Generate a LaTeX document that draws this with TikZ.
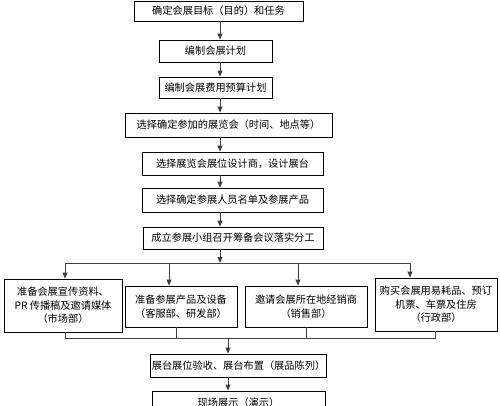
\documentclass[tikz,border=0pt]{standalone}
\usepackage{fontspec}
\setmainfont{Noto Sans CJK SC}
\usetikzlibrary{arrows.meta}
\tikzset{
  stage/.style={draw, line width=0.8pt, align=center, inner sep=1pt,
    font=\fontsize{10.2}{13.5}\selectfont},
  flow/.style={line width=0.8pt, draw=black!75, -{Triangle[width=5pt,length=6pt]}},
  link/.style={line width=0.8pt, draw=black!75},
}
\begin{document}
\begin{tikzpicture}[x=1pt,y=-1pt]
      \useasboundingbox (0,0) rectangle (500,405);
      \clip (0,0) rectangle (500,405);
      \draw
        (218.5,11) node[stage, minimum width=169pt, minimum height=20pt] (goal){确定会展目标（目的）和任务}
        (215.5,51) node[stage, minimum width=113pt, minimum height=22pt] (plan){编制会展计划}
        (215.5,87.5) node[stage, minimum width=113pt, minimum height=21pt] (budget){编制会展费用预算计划}
        (228.5,125) node[stage, minimum width=207pt, minimum height=24pt] (fair){选择确定参加的展览会（时间、地点等）}
        (232.5,163.5) node[stage, minimum width=181pt, minimum height=23pt] (booth){选择展览会展位设计商，设计展台}
        (232.5,200) node[stage, minimum width=181pt, minimum height=24pt] (staff){选择确定参展人员名单及参展产品}
        (233,238) node[stage, minimum width=180pt, minimum height=22pt] (team){成立参展小组召开筹备会议落实分工}
        (63,305.5) node[stage, minimum width=118pt, minimum height=53pt] (pr){准备会展宣传资料、\\PR 传播稿及邀请媒体\\（市场部）}
        (181,306.5) node[stage, minimum width=112pt, minimum height=41pt] (goods){准备参展产品及设备\\（客服部、研发部）}
        (306,306.5) node[stage, minimum width=122pt, minimum height=41pt] (dealer){邀请会展所在地经销商\\（销售部）}
        (436,304.5) node[stage, minimum width=122pt, minimum height=53pt] (buy){购买会展用易耗品、预订\\机票、车票及住房\\（行政部）}
        (238.5,365.5) node[stage, minimum width=173pt, minimum height=23pt] (check){展台展位验收、展台布置（展品陈列）}
        (238.5,402.5) node[stage, minimum width=173pt, minimum height=23pt] (show){现场展示（演示）};
      \coordinate (trunk) at (220,263);
      \coordinate (dropA) at (65,263);
      \coordinate (dropB) at (169,263);
      \coordinate (dropC) at (298,263);
      \coordinate (dropD) at (410,263);
      \coordinate (backA) at (65,338);
      \coordinate (backB) at (176,338);
      \coordinate (backC) at (306,338);
      \coordinate (backD) at (435,338);
      \coordinate (stem) at (228,338);
      \begin{scope}[flow]
        \draw (goal.south -| trunk) to (plan.north -| trunk);
        \draw (plan.south -| trunk) to (budget.north -| trunk);
        \draw (budget.south -| trunk) to (fair.north -| trunk);
        \draw (fair.south -| trunk) to (booth.north -| trunk);
        \draw (booth.south -| trunk) to (staff.north -| trunk);
        \draw (staff.south -| trunk) to (team.north -| trunk);
        \draw (team.south -| trunk) to (trunk);
        \draw (dropA) to (pr.north -| dropA);
        \draw (dropB) to (goods.north -| dropB);
        \draw (dropC) to (dealer.north -| dropC);
        \draw (dropD) to (buy.north -| dropD);
        \draw (stem) to (check.north -| stem);
        \draw (check.south -| stem) to (show.north -| stem);
      \end{scope}
      \begin{scope}[link]
        \draw (dropA) to (dropD);
        \draw (pr.south -| backA) -- (backA) -- (backD) -- (buy.south -| backD);
        \draw (goods.south -| backB) to (backB);
        \draw (dealer.south -| backC) to (backC);
      \end{scope}
    \end{tikzpicture}
\end{document}
